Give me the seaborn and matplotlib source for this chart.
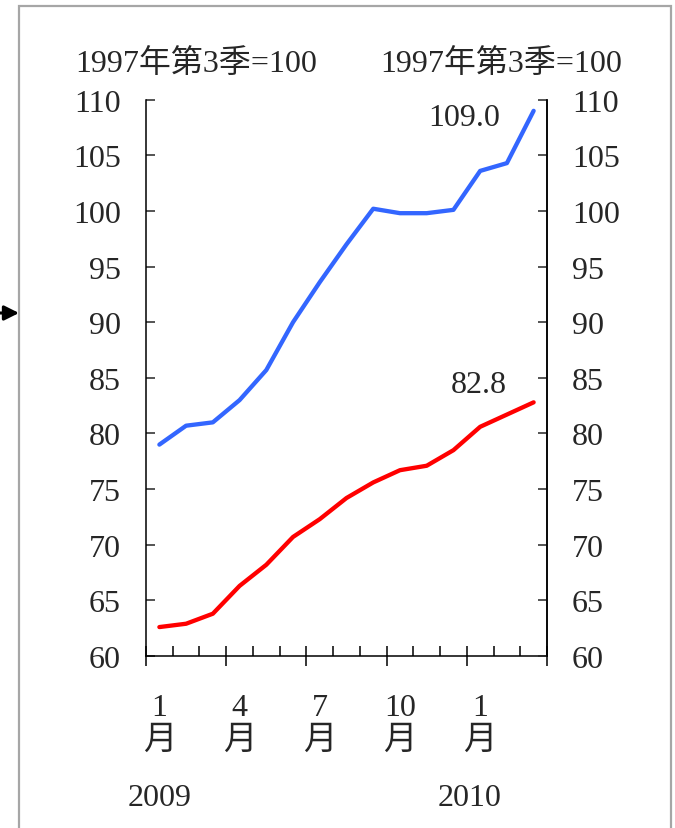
import matplotlib
matplotlib.use("Agg")
import matplotlib.pyplot as plt
import matplotlib.transforms as mtransforms
from matplotlib.patches import Rectangle, FancyArrowPatch
import numpy as np
import pandas as pd
import seaborn as sns

# ── Data ───────────────────────────────────────────────────────────────────
months = ["2009-01", "2009-02", "2009-03", "2009-04", "2009-05", "2009-06",
          "2009-07", "2009-08", "2009-09", "2009-10", "2009-11", "2009-12",
          "2010-01", "2010-02", "2010-03"]
blue_vals = [79.0, 80.7, 81.0, 83.0, 85.7, 90.0, 93.6, 97.0, 100.2,
             99.8, 99.8, 100.1, 103.6, 104.3, 109.0]
red_vals = [62.6, 62.9, 63.8, 66.3, 68.2, 70.7, 72.3, 74.2, 75.6,
            76.7, 77.1, 78.5, 80.6, 81.7, 82.8]
month_labels = ["1", "4", "7", "10", "1"]
month_label_idx = [0, 3, 6, 9, 12]
year_labels = ["2009", "2010"]
year_label_idx = [0, 11.6]
unit_label = "1997年第3季=100"
y_ticks = list(range(60, 111, 5))

BLUE = "#3366ff"
RED = "#ff0000"

# ── Style ──────────────────────────────────────────────────────────────────
sns.set_style("ticks")
FONTS = ["Liberation Serif", "Noto Sans CJK JP", "DejaVu Sans"]
plt.rcParams["font.family"] = FONTS
FS = 23

W, H = 675, 829
fig = plt.figure(figsize=(W / 100, H / 100), dpi=100)
ax = fig.add_axes([146 / W, 1 - 657 / H, (547 - 146) / W, (657 - 100.7) / H])

df = pd.DataFrame({
    "idx": np.arange(len(months)),
    "blue": blue_vals,
    "red": red_vals,
})
sns.lineplot(data=df, x="idx", y="blue", ax=ax, color=BLUE, lw=3.1)
sns.lineplot(data=df, x="idx", y="red", ax=ax, color=RED, lw=3.1)

ax.set_xlim(-0.5, len(months) - 0.5)
ax.set_ylim(60, 110)
ax.set_xlabel("")
ax.set_ylabel("")

# x ticks: quarter boundaries (major, crossing) + monthly (minor, inward)
ax.set_xticks(np.arange(-0.5, len(months), 3))
ax.set_xticks([i + 0.5 for i in range(len(months) - 1) if (i + 1) % 3 != 0], minor=True)
ax.set_xticklabels([])
ax.tick_params(axis="x", which="major", direction="inout", length=14, width=1.1, color="black")
ax.tick_params(axis="x", which="minor", direction="in", length=7, width=1.1, color="black")

ax.set_yticks(y_ticks)
ax.tick_params(axis="y", direction="in", length=6.5, width=1.1, pad=18, labelsize=FS)
for s in ["left", "bottom", "right"]:
    ax.spines[s].set_color("black")
    ax.spines[s].set_linewidth(1.1)
ax.spines["top"].set_visible(False)

ax2 = ax.twinx()
ax2.set_ylim(60, 110)
ax2.set_yticks(y_ticks)
ax2.tick_params(axis="y", direction="in", length=6.5, width=1.1, pad=18, labelsize=FS)
for s in ["left", "bottom", "top"]:
    ax2.spines[s].set_visible(False)
ax2.spines["right"].set_color("black")
ax2.spines["right"].set_linewidth(1.1)

# month / year labels under the axis
trans = mtransforms.blended_transform_factory(ax.transData, fig.transFigure)
for i, lab in zip(month_label_idx, month_labels):
    ax.text(i, 1 - 716 / H, lab, transform=trans, ha="center", va="baseline", fontsize=FS)
    ax.text(i, 1 - 741 / H, "月", transform=trans, ha="center", va="center", fontsize=FS + 1)
for i, lab in zip(year_label_idx, year_labels):
    ax.text(i, 1 - 806 / H, lab, transform=trans, ha="center", va="baseline", fontsize=FS)

# end-value labels
ax.text(12.75, 107.7, f"{blue_vals[-1]:.1f}", ha="right", va="baseline", fontsize=FS)
ax.text(12.98, 83.7, f"{red_vals[-1]:.1f}", ha="right", va="baseline", fontsize=FS)

# unit labels
fig.text(75 / W, 1 - 72 / H, unit_label, ha="left", va="baseline", fontsize=FS)
fig.text(380 / W, 1 - 72 / H, unit_label, ha="left", va="baseline", fontsize=FS)

# frame and pointer arrow
fig.add_artist(Rectangle((19 / W, -0.02), (671 - 19) / W, 1 - 7 / H + 0.02,
                         transform=fig.transFigure, fill=False, ec="#a6a6a6", lw=1.6))
fig.add_artist(FancyArrowPatch((-2 / W, 1 - 314 / H), (19 / W, 1 - 314 / H),
                               transform=fig.transFigure, arrowstyle="-|>",
                               mutation_scale=22, color="black", lw=2.2,
                               shrinkA=0, shrinkB=0))

fig.savefig("out.png", dpi=100)
